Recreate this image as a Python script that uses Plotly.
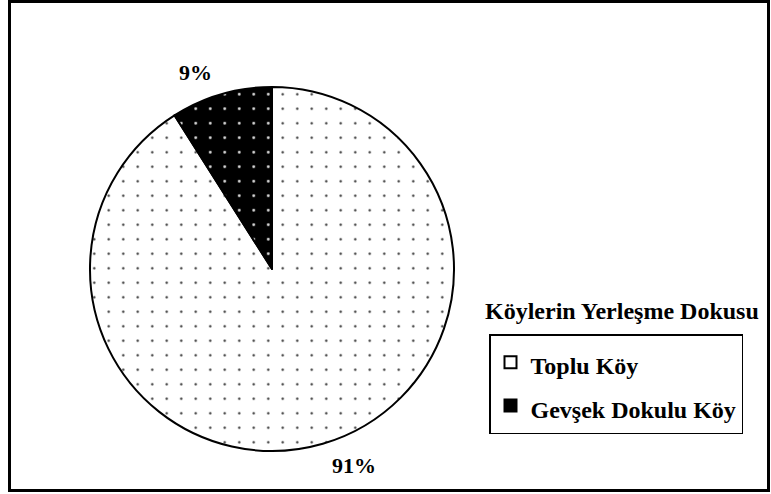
import plotly.graph_objects as go

labels = ["Toplu Köy", "Gevşek Dokulu Köy"]
values = [91, 9]
legend_title = "Köylerin Yerleşme Dokusu"
slice_bg = ["white", "black"]
slice_fg = ["#333333", "#dddddd"]

FONT = "Times New Roman, Liberation Serif, serif"
W, H = 771, 494
CX, CY, R = 272, 269, 182


def dom(r):
    return dict(x=[(CX - r) / W, (CX + r) / W],
                y=[(H - CY - r) / H, (H - CY + r) / H])


legend_labels = [f'<span style="font-size:24px">{l}</span>' for l in labels]

fig = go.Figure()
fig.add_trace(go.Pie(
    labels=legend_labels,
    values=values,
    sort=False,
    direction="clockwise",
    rotation=0,
    textinfo="none",
    marker=dict(
        colors=slice_bg,
        line=dict(color="black", width=2),
        pattern=dict(shape=".", bgcolor=slice_bg, fgcolor=slice_fg,
                     size=14.5, solidity=[0.02, 0.03], fillmode="replace"),
    ),
    domain=dom(R),
    hoverinfo="skip",
))
# transparent copy carrying only the outside percentage labels
fig.add_trace(go.Pie(
    labels=legend_labels,
    values=values,
    sort=False,
    direction="clockwise",
    rotation=0,
    texttemplate="<b>%{percent:.0%}</b>",
    textposition="outside",
    textfont=dict(family=FONT, size=22, color="black"),
    marker=dict(colors=["rgba(0,0,0,0)", "rgba(0,0,0,0)"],
                line=dict(width=0)),
    domain=dom(R + 11),
    showlegend=False,
    hoverinfo="skip",
))

fig.update_layout(
    width=W, height=H,
    margin=dict(l=0, r=0, t=0, b=0),
    paper_bgcolor="white",
    plot_bgcolor="white",
    showlegend=True,
    legend=dict(
        x=489 / W, y=1 - 334 / H, xanchor="left", yanchor="top",
        bordercolor="black", borderwidth=1.5, bgcolor="white",
        font=dict(family=FONT, size=31, color="black", weight="bold"),
    ),
    annotations=[dict(
        text=f"<b>{legend_title}</b>", x=622 / W, y=1 - 311 / H,
        xref="paper", yref="paper", xanchor="center", yanchor="middle",
        showarrow=False, font=dict(family=FONT, size=24, color="black"),
    )],
    shapes=[dict(type="rect", xref="paper", yref="paper",
                 x0=9.5 / W, x1=768.5 / W, y0=1 - 490.5 / H, y1=1 - 1.5 / H,
                 line=dict(color="black", width=3))],
)

fig.write_html("out.html", config={"displayModeBar": False},
               post_script="document.body.style.margin='0';")
